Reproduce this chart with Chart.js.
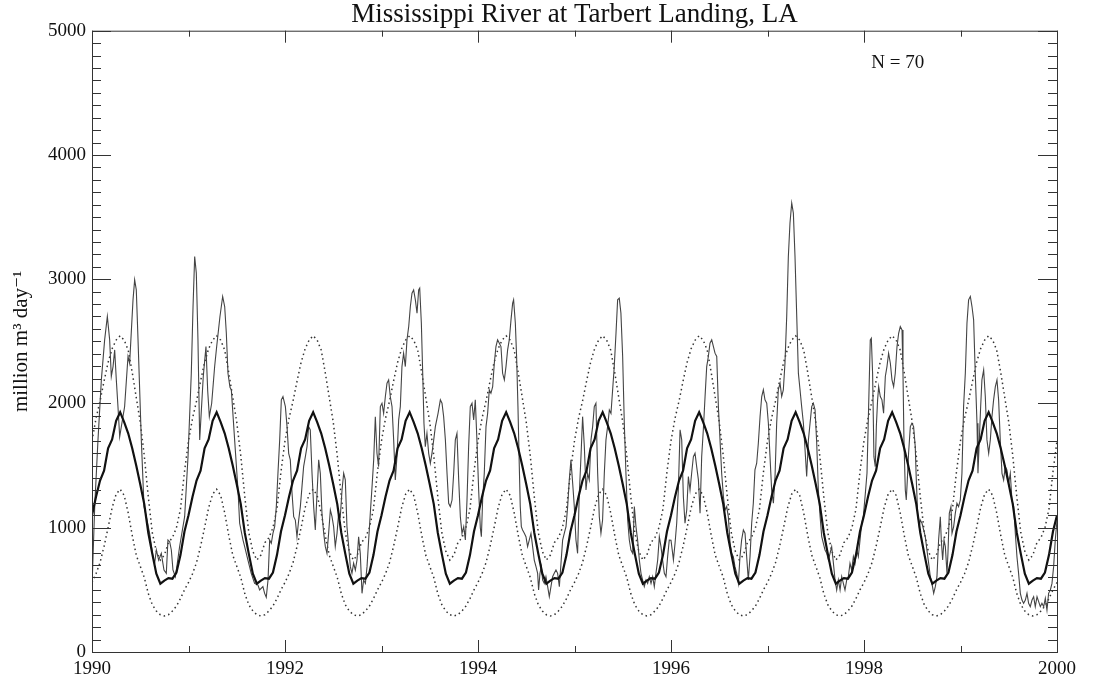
<!DOCTYPE html>
<html>
<head>
<meta charset="utf-8">
<script src="https://cdn.jsdelivr.net/npm/chart.js@4.4.1/dist/chart.umd.min.js"></script>
<style>
  html, body { margin: 0; padding: 0; background: #fff; }
  #wrap { width: 1102px; height: 677px; }
</style>
</head>
<body>
<div id="wrap"><canvas id="chart" width="1102" height="677"></canvas></div>
<script>
// observed discharge, decimal year / million m3 per day
const obsT = [
  1990.000,1990.028,1990.062,1990.097,1990.131,1990.159,1990.183,1990.200,1990.218,1990.235,1990.252,1990.269,1990.287,1990.304,1990.338,1990.373,1990.390,1990.425,1990.442,1990.459,1990.477,1990.511,1990.539,1990.563,1990.597,1990.632,1990.649,1990.667,1990.691,1990.718,1990.746,1990.770,1990.787,1990.805,1990.822,1990.839,1990.864,1990.884,1990.908,1990.960,1990.995,
  1991.029,1991.047,1991.064,1991.081,1991.098,1991.116,1991.153,1991.181,1991.199,1991.216,1991.240,1991.271,1991.292,1991.326,1991.354,1991.375,1991.392,1991.409,1991.430,1991.444,1991.478,1991.513,1991.530,1991.565,1991.582,1991.616,1991.650,1991.685,1991.720,1991.737,1991.771,1991.789,1991.806,1991.824,1991.841,1991.858,1991.875,1991.893,1991.910,1991.927,1991.945,1991.962,1991.979,
  1992.004,1992.021,1992.038,1992.055,1992.073,1992.090,1992.107,1992.124,1992.142,1992.159,1992.176,1992.193,1992.211,1992.228,1992.245,1992.262,1992.280,1992.297,1992.314,1992.332,1992.349,1992.366,1992.383,1992.401,1992.418,1992.435,1992.452,1992.470,1992.487,1992.504,1992.521,1992.539,1992.556,1992.573,1992.591,1992.608,1992.625,1992.642,1992.660,1992.677,1992.694,1992.711,1992.729,1992.746,1992.763,1992.780,1992.798,1992.815,1992.833,1992.850,1992.867,1992.884,1992.902,1992.919,1992.936,1992.953,1992.970,1992.988,
  1993.005,1993.022,1993.040,1993.057,1993.074,1993.091,1993.109,1993.126,1993.143,1993.160,1993.178,1993.195,1993.212,1993.229,1993.247,1993.264,1993.282,1993.299,1993.316,1993.333,1993.351,1993.368,1993.385,1993.396,1993.413,1993.427,1993.440,1993.454,1993.471,1993.489,1993.506,1993.523,1993.541,1993.558,1993.586,1993.610,1993.627,1993.644,1993.662,1993.679,1993.696,1993.713,1993.731,1993.748,1993.765,1993.782,1993.800,1993.817,1993.834,1993.852,1993.869,1993.886,1993.903,1993.920,1993.938,1993.955,1993.972,1993.989,
  1994.007,1994.024,1994.035,1994.048,1994.065,1994.083,1994.100,1994.117,1994.134,1994.152,1994.169,1994.186,1994.203,1994.221,1994.238,1994.255,1994.273,1994.290,1994.307,1994.324,1994.342,1994.359,1994.369,1994.387,1994.400,1994.414,1994.428,1994.438,1994.449,1994.462,1994.480,1994.497,1994.514,1994.531,1994.549,1994.566,1994.583,1994.601,1994.618,1994.628,1994.642,1994.656,1994.670,1994.687,1994.704,1994.722,1994.739,1994.756,1994.773,1994.790,1994.808,1994.825,1994.843,1994.860,1994.877,1994.894,1994.912,1994.929,1994.946,1994.963,1994.981,1994.998,
  1995.015,1995.032,1995.050,1995.067,1995.084,1995.102,1995.119,1995.136,1995.153,1995.171,1995.188,1995.205,1995.222,1995.240,1995.257,1995.274,1995.291,1995.309,1995.326,1995.343,1995.361,1995.378,1995.395,1995.412,1995.430,1995.447,1995.464,1995.481,1995.499,1995.516,1995.533,1995.551,1995.568,1995.585,1995.603,1995.620,1995.637,1995.654,1995.672,1995.689,1995.706,1995.723,1995.741,1995.758,1995.775,1995.793,1995.810,1995.827,1995.844,1995.862,1995.879,1995.896,1995.913,1995.931,1995.948,1995.965,1995.982,
  1996.000,1996.017,1996.025,1996.042,1996.059,1996.076,1996.094,1996.111,1996.128,1996.145,1996.163,1996.180,1996.197,1996.214,1996.232,1996.249,1996.266,1996.284,1996.301,1996.318,1996.335,1996.353,1996.370,1996.387,1996.404,1996.422,1996.439,1996.456,1996.474,1996.491,1996.508,1996.525,1996.543,1996.560,1996.577,1996.594,1996.612,1996.629,1996.646,1996.663,1996.681,1996.698,1996.715,1996.732,1996.750,1996.767,1996.784,1996.801,1996.819,1996.836,1996.853,1996.870,1996.888,1996.905,1996.923,1996.940,1996.957,1996.974,1996.992,
  1997.009,1997.026,1997.043,1997.061,1997.078,1997.095,1997.112,1997.130,1997.147,1997.164,1997.181,1997.199,1997.216,1997.233,1997.251,1997.268,1997.285,1997.303,1997.320,1997.337,1997.354,1997.372,1997.389,1997.406,1997.424,1997.441,1997.458,1997.475,1997.493,1997.510,1997.527,1997.545,1997.562,1997.579,1997.596,1997.614,1997.631,1997.648,1997.665,1997.683,1997.700,1997.717,1997.734,1997.752,1997.769,1997.786,1997.803,1997.821,1997.838,1997.855,1997.872,1997.890,1997.907,1997.924,1997.941,1997.959,1997.976,1997.993,
  1998.014,1998.031,1998.048,1998.065,1998.076,1998.089,1998.103,1998.117,1998.128,1998.141,1998.152,1998.169,1998.186,1998.203,1998.221,1998.238,1998.255,1998.273,1998.290,1998.307,1998.324,1998.342,1998.359,1998.376,1998.394,1998.404,1998.414,1998.428,1998.438,1998.449,1998.462,1998.480,1998.497,1998.514,1998.531,1998.542,1998.556,1998.573,1998.583,1998.601,1998.618,1998.635,1998.652,1998.670,1998.687,1998.704,1998.722,1998.739,1998.756,1998.773,1998.791,1998.801,1998.815,1998.829,1998.843,1998.860,1998.870,1998.884,1998.901,1998.912,1998.929,1998.946,1998.963,1998.980,1998.998,
  1999.015,1999.032,1999.050,1999.067,1999.084,1999.102,1999.119,1999.136,1999.153,1999.171,1999.181,1999.195,1999.209,1999.222,1999.240,1999.257,1999.274,1999.292,1999.309,1999.326,1999.343,1999.361,1999.378,1999.395,1999.412,1999.430,1999.447,1999.464,1999.481,1999.499,1999.516,1999.533,1999.551,1999.568,1999.585,1999.602,1999.620,1999.637,1999.654,1999.672,1999.689,1999.706,1999.723,1999.741,1999.758,1999.775,1999.793,1999.810,1999.827,1999.844,1999.862,1999.879,1999.896,1999.913,1999.931,1999.948,1999.965,1999.982,2000.000
];
const obsQ = [
  520,1170,1707,2190,2512,2700,2512,2217,2297,2431,2190,1975,1733,1814,1975,2378,2324,2834,2995,2914,2512,1707,1170,1089,955,767,714,821,740,794,660,633,901,888,821,660,606,714,848,1089,1572,
  2243,2780,3183,3049,2512,1707,2217,2458,2100,1894,2000,2297,2458,2700,2861,2780,2565,2243,2130,2109,1707,1304,1036,901,848,740,633,552,539,499,526,472,440,579,901,875,955,1009,1170,1438,1707,2029,2056,
  1975,1814,1599,1546,1277,1089,1062,928,1062,1170,1331,1492,1572,1653,1814,1787,1438,1170,982,1277,1546,1438,1116,955,848,794,955,1143,1089,1009,848,955,1116,1089,1304,1438,1385,1009,848,687,633,714,660,740,928,794,472,579,552,687,901,1116,1331,1546,1894,1599,1492,1975,
  2002,1921,2056,2163,2190,2056,1975,1707,1385,1572,1868,1975,2297,2404,2297,2512,2619,2780,2888,2914,2834,2727,2914,2928,2646,2243,1841,1653,1760,1599,1519,1599,1707,1814,1921,2029,2002,1894,1707,1438,1197,1170,1223,1438,1707,1760,1385,1089,955,1009,901,1223,1653,1975,2002,1868,2029,1700,
  1300,1000,928,1223,1438,1814,1921,2109,2082,2136,2324,2458,2512,2485,2458,2243,2190,2297,2431,2512,2673,2807,2834,2646,2378,1975,1492,1170,1009,982,955,928,848,901,955,848,740,687,633,499,633,687,579,552,606,526,445,526,606,633,660,633,526,714,901,955,1009,1170,1385,1546,1358,1170,
  901,794,1277,1572,1894,1653,1304,1438,1385,1707,1814,1975,2002,1438,1089,955,1062,1438,1707,1814,1948,1921,2109,2297,2565,2834,2847,2727,2378,1841,1438,1062,901,821,794,1170,1009,901,740,633,579,526,579,552,606,552,606,526,633,740,928,848,740,633,606,767,901,
  900,794,741,875,1036,1304,1788,1707,1251,1036,1143,1412,1304,1439,1573,1600,1492,1385,1117,1573,1788,2056,2297,2378,2485,2512,2459,2405,2378,1975,1707,1439,1251,1143,1170,1090,875,794,768,687,633,553,768,902,982,956,768,580,768,1036,1197,1466,1519,1680,1895,2056,2110,2029,2002,
  1841,1573,1304,1197,1412,1841,2110,2163,2056,2110,2324,2700,3183,3452,3613,3532,3183,2700,2244,2110,1975,1841,1627,1412,1707,1841,1975,2002,1949,1680,1304,1090,929,875,821,794,741,794,848,714,580,499,580,499,607,553,499,580,607,714,660,768,714,821,768,902,1036,1090,
  1277,1438,1975,2512,2525,2243,1572,1492,1814,2029,2136,2056,2029,1921,2217,2297,2404,2324,2190,2136,2243,2458,2565,2619,2592,2243,1707,1304,1223,1385,1599,1814,1841,1814,1653,1385,1116,1009,1062,1036,982,928,821,714,606,552,472,526,606,901,1089,901,740,901,848,633,794,1116,1170,955,1009,1116,1197,1170,1223,
  1438,1975,2243,2646,2834,2861,2780,2673,2243,1841,1438,1707,1975,2190,2270,2056,1707,1599,1707,1894,2029,2136,2190,2029,1707,1438,1385,1492,1465,1358,1438,1223,1170,955,767,633,472,418,392,418,472,392,365,418,445,365,445,405,365,392,365,432,338,472,499,552,687,900,1060
];

// seasonal climatology, 24 half-month steps starting 1 Jan
const meanCycle  = [1100, 1250, 1380, 1460, 1640, 1710, 1860, 1930, 1850, 1760, 1640, 1500, 1350, 1190, 960, 790, 630, 550, 575, 595, 590, 640, 780, 970];
const upperCycle = [1700, 1880, 2020, 2180, 2330, 2440, 2510, 2545, 2510, 2430, 2250, 2050, 1850, 1580, 1250, 960, 810, 740, 780, 880, 920, 1000, 1150, 1450];
const lowerCycle = [560, 630, 720, 850, 1000, 1160, 1270, 1310, 1260, 1120, 940, 780, 690, 600, 470, 380, 330, 300, 290, 300, 330, 370, 430, 500];
const cycleYears = [1990, 1991, 1992, 1993, 1994, 1995, 1996, 1997, 1998, 1999];

const serif = "'Liberation Serif', 'DejaVu Serif', 'Times New Roman', serif";

function repeatCycle(cycle) {
    const pts = [];
    cycleYears.forEach(yr => {
        cycle.forEach((v, k) => pts.push({ x: yr + k / cycle.length, y: v }));
    });
    pts.push({ x: 2000, y: cycle[0] });
    return pts;
}

const obsPoints = obsT.map((t, i) => ({ x: t, y: obsQ[i] }));

// frame with inward ticks on all four sides, plus the N label
const frameTicks = {
    id: 'frameTicks',
    afterDraw(chart) {
        const { ctx, chartArea: a, scales } = chart;
        const xs = scales.x, ys = scales.y;
        ctx.save();
        ctx.strokeStyle = '#333';
        ctx.lineWidth = 1;
        ctx.strokeRect(a.left + 0.5, a.top + 0.5, a.right - a.left, a.bottom - a.top);
        ctx.beginPath();
        for (let v = 0; v <= 5000; v += 100) {
            const p = Math.round(ys.getPixelForValue(v)) + 0.5;
            const len = v % 1000 === 0 ? 19 : 9;
            ctx.moveTo(a.left, p); ctx.lineTo(a.left + len, p);
            ctx.moveTo(a.right, p); ctx.lineTo(a.right - len, p);
        }
        for (let yr = 1990; yr <= 2000; yr++) {
            const p = Math.round(xs.getPixelForValue(yr)) + 0.5;
            const len = yr % 2 === 0 ? 12 : 6;
            ctx.moveTo(p, a.bottom); ctx.lineTo(p, a.bottom - len);
            ctx.moveTo(p, a.top); ctx.lineTo(p, a.top + len);
        }
        ctx.stroke();

        ctx.fillStyle = '#111';
        ctx.font = '19px ' + serif;
        ctx.textAlign = 'center';
        ctx.textBaseline = 'middle';
        ctx.fillText('N = 70', xs.getPixelForValue(1998.35), ys.getPixelForValue(4740));
        ctx.restore();
    }
};

new Chart(document.getElementById('chart'), {
    type: 'line',
    data: {
        datasets: [{
            label: 'mean',
            data: repeatCycle(meanCycle),
            borderColor: '#111',
            borderWidth: 2.2,
            pointRadius: 0,
            order: 1
        }, {
            label: 'observed',
            data: obsPoints,
            borderColor: '#444',
            borderWidth: 1.1,
            pointRadius: 0,
            order: 2
        }, {
            label: 'upper',
            data: repeatCycle(upperCycle),
            borderColor: '#333',
            borderWidth: 1.5,
            borderDash: [1.5, 3.2],
            pointRadius: 0,
            order: 3
        }, {
            label: 'lower',
            data: repeatCycle(lowerCycle),
            borderColor: '#333',
            borderWidth: 1.5,
            borderDash: [1.5, 3.2],
            pointRadius: 0,
            order: 3
        }]
    },
    options: {
        responsive: false,
        animation: false,
        devicePixelRatio: 1,
        layout: { padding: { left: 0, right: 45, top: 0, bottom: 0 } },
        plugins: {
            legend: { display: false },
            tooltip: { enabled: false },
            title: {
                display: true,
                fullSize: false,
                text: 'Mississippi River at Tarbert Landing, LA',
                color: '#111',
                font: { family: serif, size: 27, weight: 'normal', lineHeight: 1.1 },
                padding: { top: 0, bottom: 1 }
            }
        },
        scales: {
            x: {
                type: 'linear',
                min: 1990,
                max: 2000,
                grid: { display: false, drawTicks: false },
                border: { display: false },
                ticks: {
                    stepSize: 2,
                    padding: 6,
                    color: '#111',
                    font: { family: serif, size: 19 },
                    maxRotation: 0,
                    callback: v => String(v)
                },
                afterFit: s => { s.height = 25; }
            },
            y: {
                min: 0,
                max: 5000,
                grid: { display: false, drawTicks: false },
                border: { display: false },
                ticks: {
                    stepSize: 1000,
                    padding: 6,
                    color: '#111',
                    font: { family: serif, size: 19 },
                    callback: v => String(v)
                },
                title: {
                    display: true,
                    text: 'million m³ day⁻¹',
                    color: '#111',
                    font: { family: serif, size: 21 },
                    padding: { top: 9, bottom: 0 }
                },
                afterFit: s => { s.width = 92; }
            }
        }
    },
    plugins: [frameTicks]
});
</script>
</body>
</html>
